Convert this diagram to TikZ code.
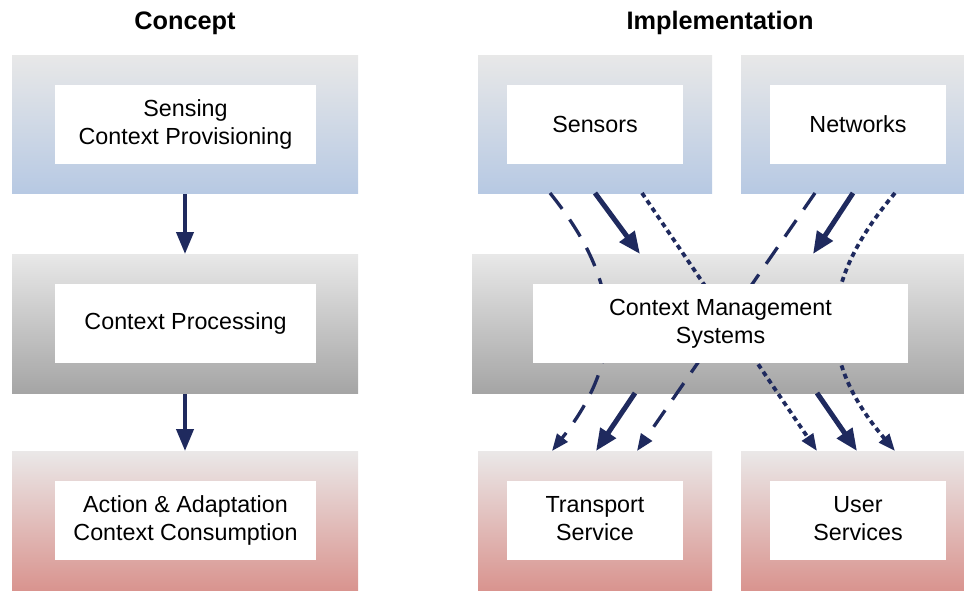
\documentclass[tikz,border=0pt]{standalone}
\usepackage{fontspec}
\setmainfont{Liberation Sans}
\usetikzlibrary{arrows.meta,calc}
\definecolor{navy}{HTML}{1F2A5E}
\definecolor{lightT}{HTML}{E8E8E8}
\definecolor{blueB}{HTML}{B7C9E3}
\definecolor{grayB}{HTML}{A5A5A5}
\definecolor{redT}{HTML}{EAE8E8}
\definecolor{redB}{HTML}{D9948F}
\newcommand{\twolines}[2]{\raisebox{-4pt}{\begin{tabular}{@{}c@{}}#1\\#2\end{tabular}}}
\tikzset{
  outerbox/.style={inner sep=0pt, outer sep=0pt, draw=none, minimum height=139pt},
  bluebox/.style={outerbox, top color=lightT, bottom color=blueB},
  graybox/.style={outerbox, top color=lightT, bottom color=grayB},
  redbox/.style={outerbox, top color=redT, bottom color=redB},
  innerbox/.style={fill=white, inner sep=0pt, outer sep=0pt, minimum height=79pt, align=center,
    font=\fontsize{23.3}{28}\selectfont},
  title/.style={font=\fontsize{25.3}{28}\selectfont\bfseries},
  thickarr/.style={navy, line width=5pt, -{Triangle[length=22pt,width=18pt]}},
  vertarr/.style={navy, line width=4pt, -{Triangle[length=22pt,width=17pt]}},
  dasharr/.style={navy, line width=3.3pt, dash pattern=on 20pt off 13pt, -{Triangle[length=17pt,width=13pt]}},
  dotarr/.style={navy, line width=3.8pt, dash pattern=on 5pt off 4pt, -{Triangle[length=17pt,width=13pt]}},
}
\begin{document}
\begin{tikzpicture}[x=1pt,y=-1pt]
\useasboundingbox (0,0) rectangle (964,590);
% titles
\node[title] (tconcept) at (185,23) {Concept};
\node[title] (timpl) at (720,23) {Implementation};
% outer boxes
\node[bluebox, minimum width=346pt, minimum height=138pt] (topO) at (185,124) {};
\node[graybox, minimum width=346pt] (midO) at (185,323.5) {};
\node[redbox, minimum width=346pt] (botO) at (185,520.5) {};
\node[bluebox, minimum width=234pt, minimum height=138pt] (sensO) at (595,124) {};
\node[bluebox, minimum width=223pt, minimum height=138pt] (netO) at (852.5,124) {};
\node[graybox, minimum width=492pt] (cmsO) at (718,323.5) {};
\node[redbox, minimum width=234pt] (trO) at (595,520.5) {};
\node[redbox, minimum width=223pt] (usO) at (852.5,520.5) {};
% left arrows
\draw[vertarr] ([yshift=-1pt]topO.south) -- (midO.north);
\draw[vertarr] ([yshift=-1pt]midO.south) -- (botO.north);
% right connectors
\draw[thickarr] ([xshift=117pt]sensO.south west) -- ([xshift=168pt]cmsO.north west);
\draw[thickarr] ([xshift=112pt]netO.south west) -- ([xshift=341pt]cmsO.north west);
\draw[thickarr] ([xshift=163pt]cmsO.south west) -- ([xshift=118pt]trO.north west);
\draw[thickarr] ([xshift=345pt]cmsO.south west) -- ([xshift=116pt]usO.north west);
\draw[dasharr] ([xshift=72pt]sensO.south west) .. controls (624,285) and (624,359) .. ([xshift=74pt]trO.north west);
\draw[dasharr] ([xshift=74pt]netO.south west) -- ([xshift=159pt]trO.north west);
\draw[dotarr] ([xshift=164pt]sensO.south west) -- ([xshift=76pt]usO.north west);
\draw[dotarr] ([xshift=154pt]netO.south west) .. controls (817,285) and (817,359) .. ([xshift=154pt]usO.north west);
% inner boxes
\node[innerbox, minimum width=261pt] (sensing) at (185.5,124.5) {\twolines{Sensing}{Context Provisioning}};
\node[innerbox, minimum width=261pt] (proc) at (185.5,323.5) {\raisebox{-2.5pt}{Context Processing}};
\node[innerbox, minimum width=261pt] (action) at (185.5,520.5) {\twolines{Action \& Adaptation}{Context Consumption}};
\node[innerbox, minimum width=176pt] (sensors) at (595,124.5) {\raisebox{-1pt}{Sensors}};
\node[innerbox, minimum width=176pt] (networks) at (858,124.5) {\raisebox{-1pt}{Networks}};
\node[innerbox, minimum width=375pt] (cms) at (720.5,323.5) {\twolines{Context Management}{Systems}};
\node[innerbox, minimum width=176pt] (transport) at (595,520.5) {\twolines{Transport}{Service}};
\node[innerbox, minimum width=176pt] (user) at (858,520.5) {\twolines{User}{Services}};
\end{tikzpicture}
\end{document}
